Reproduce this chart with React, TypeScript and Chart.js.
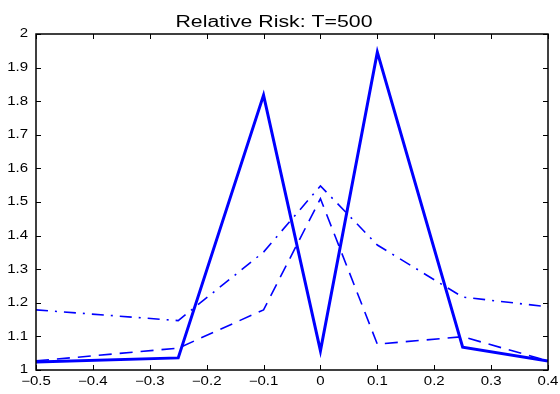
import React, { useEffect, useRef } from "react";
import { Chart, registerables } from "chart.js";

Chart.register(...registerables);

const TITLE = "Relative Risk: T=500";
const xValues = [-0.5, -0.25, -0.1, 0, 0.1, 0.25, 0.4];
const solidSeries = [1.024, 1.036, 1.818, 1.057, 1.946, 1.068, 1.027];
const dashedSeries = [1.027, 1.065, 1.179, 1.51, 1.077, 1.099, 1.027];
const dashDotSeries = [1.179, 1.147, 1.351, 1.548, 1.372, 1.217, 1.188];
const xTicks = [-0.5, -0.4, -0.3, -0.2, -0.1, 0, 0.1, 0.2, 0.3, 0.4];
const yTicks = [1, 1.1, 1.2, 1.3, 1.4, 1.5, 1.6, 1.7, 1.8, 1.9, 2];

const FONT = "'Liberation Sans', Arial, Helvetica, sans-serif";
const BLUE = "#0000ff";
const STRETCH = 1.25;

function fmt(v: number) {
  if (Math.abs(v) < 1e-9) return "0";
  if (Math.abs(v - Math.round(v)) < 1e-9) return String(Math.round(v));
  const s = v.toFixed(1);
  return s.replace("-", "\u2212");
}

function stretchText(ctx: any, text: string, x: number, y: number, align: string, sx: number) {
  const w = ctx.measureText(text).width * sx;
  let left = x;
  if (align === "center") left = x - w / 2;
  else if (align === "right") left = x - w;
  ctx.save();
  ctx.translate(left, y);
  ctx.scale(sx, 1);
  ctx.textAlign = "left";
  ctx.fillText(text, 0, 0);
  ctx.restore();
}

const framePlugin = {
  id: "frame",
  afterDatasetsDraw(chart: any) {
    const { ctx, chartArea } = chart;
    const { left, right, top, bottom } = chartArea;
    const xs = chart.scales.x;
    const ys = chart.scales.y;
    ctx.save();
    ctx.strokeStyle = "#000";
    ctx.lineWidth = 1;
    const t = 5;
    ctx.beginPath();
    xTicks.forEach((v) => {
      const px = Math.round(xs.getPixelForValue(v)) + 0.5;
      ctx.moveTo(px, bottom);
      ctx.lineTo(px, bottom - t);
      ctx.moveTo(px, top);
      ctx.lineTo(px, top + t);
    });
    yTicks.forEach((v) => {
      const py = Math.round(ys.getPixelForValue(v)) + 0.5;
      ctx.moveTo(left, py);
      ctx.lineTo(left + t, py);
      ctx.moveTo(right, py);
      ctx.lineTo(right - t, py);
    });
    ctx.stroke();
    ctx.lineWidth = 1.5;
    ctx.strokeRect(left, top, right - left, bottom - top);

    ctx.fillStyle = "#000";
    ctx.font = `12px ${FONT}`;
    ctx.textBaseline = "middle";
    xTicks.forEach((v) => {
      stretchText(ctx, fmt(v), xs.getPixelForValue(v), bottom + 12, "center", STRETCH);
    });
    yTicks.forEach((v) => {
      stretchText(ctx, fmt(v), left - 8, ys.getPixelForValue(v), "right", STRETCH);
    });

    ctx.font = `16px ${FONT}`;
    ctx.textBaseline = "alphabetic";
    const tw = ctx.measureText(TITLE).width;
    stretchText(ctx, TITLE, 274, 27, "center", 197 / tw);
    ctx.restore();
  },
};

export default function App() {
  const ref = useRef<HTMLCanvasElement>(null);
  useEffect(() => {
    if (!ref.current) return;
    const mk = (ys: number[]) => xValues.map((x, i) => ({ x, y: ys[i] }));
    const chart = new Chart(ref.current, {
      type: "line",
      data: {
        datasets: [
          {
            data: mk(dashDotSeries),
            borderColor: BLUE,
            borderWidth: 1.6,
            borderDash: [12, 7, 2, 7],
            pointRadius: 0,
            tension: 0,
            fill: false,
          },
          {
            data: mk(dashedSeries),
            borderColor: BLUE,
            borderWidth: 1.6,
            borderDash: [13, 8],
            pointRadius: 0,
            tension: 0,
            fill: false,
          },
          {
            data: mk(solidSeries),
            borderColor: BLUE,
            borderWidth: 3,
            pointRadius: 0,
            tension: 0,
            fill: false,
          },
        ],
      },
      options: {
        animation: false,
        responsive: false,
        maintainAspectRatio: false,
        layout: { padding: { top: 34, right: 12, left: 0, bottom: 0 } },
        plugins: { legend: { display: false }, title: { display: false }, tooltip: { enabled: false } },
        scales: {
          x: {
            type: "linear",
            min: -0.5,
            max: 0.4,
            afterBuildTicks: (s: any) => {
              s.ticks = xTicks.map((v) => ({ value: v }));
            },
            afterFit: (s: any) => {
              s.height = 24;
            },
            grid: { display: false, drawTicks: false },
            border: { display: false },
            ticks: { display: false },
          },
          y: {
            type: "linear",
            min: 1,
            max: 2,
            afterBuildTicks: (s: any) => {
              s.ticks = yTicks.map((v) => ({ value: v }));
            },
            afterFit: (s: any) => {
              s.width = 36;
            },
            grid: { display: false, drawTicks: false },
            border: { display: false },
            ticks: { display: false },
          },
        },
      },
      plugins: [framePlugin],
    });
    return () => chart.destroy();
  }, []);
  return (
    <div style={{ position: "fixed", left: 0, top: 0, width: 560, height: 394, background: "#fff" }}>
      <canvas ref={ref} width={560} height={394} style={{ width: 560, height: 394 }} />
    </div>
  );
}
